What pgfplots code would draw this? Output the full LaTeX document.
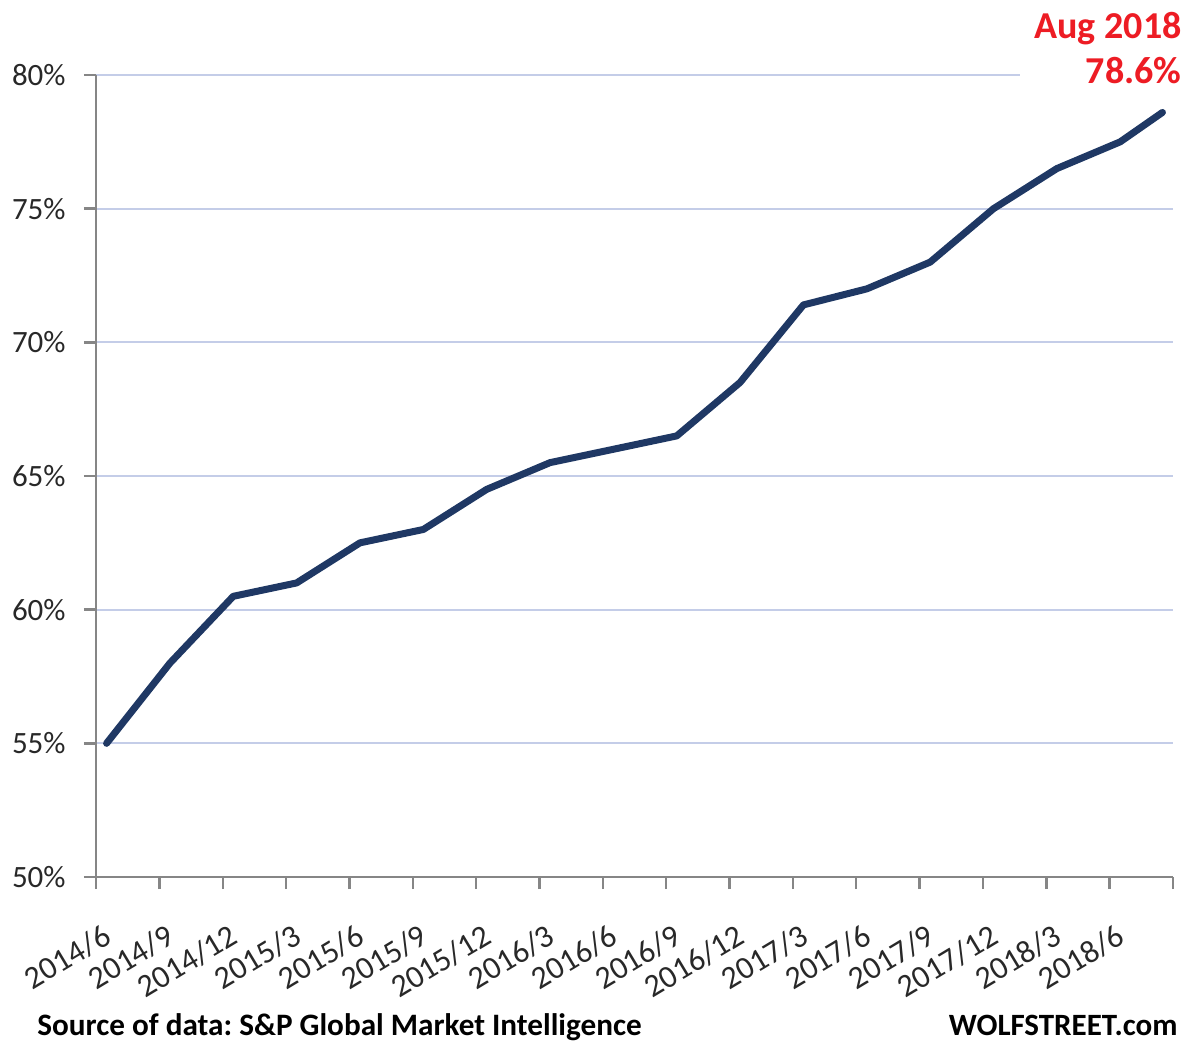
\documentclass[border=0pt]{standalone}
\usepackage{fontspec}
\setmainfont{Carlito}
\usepackage{pgfplots}
\pgfplotsset{compat=1.18}
\definecolor{navy}{RGB}{31,56,100}
\definecolor{axisgray}{RGB}{134,134,134}
\definecolor{gridblue}{RGB}{196,205,232}
\definecolor{annred}{RGB}{237,28,36}
\definecolor{txt}{RGB}{40,40,40}
\frenchspacing
\begin{document}
\begin{tikzpicture}
\path[use as bounding box] (0,0) rectangle (594.5pt,520.5pt);
\begin{axis}[
  at={(48pt,82pt)}, anchor=south west,
  width=538.5pt, height=401pt, scale only axis,
  xmin=0, xmax=51, ymin=50, ymax=80,
  axis x line*=bottom, axis y line*=left,
  axis line style={draw=axisgray, line width=1.2pt, -},
  xtick={0,3,...,51},
  xticklabels={2014/6,2014/9,2014/12,2015/3,2015/6,2015/9,2015/12,2016/3,2016/6,2016/9,2016/12,2017/3,2017/6,2017/9,2017/12,2018/3,2018/6,{}},
  ytick={50,55,60,65,70,75,80},
  yticklabels={50\%,55\%,60\%,65\%,70\%,75\%,80\%},
  tick align=outside, major tick length=6pt,
  tick style={draw=axisgray, line width=1.2pt},
  ymajorgrids, grid style={draw=gridblue, line width=1pt},
  xticklabel style={font=\fontsize{16pt}{18pt}\selectfont, text=txt, inner sep=0pt, xshift=6pt, yshift=-22pt, rotate=31, anchor=east},
  yticklabel style={font=\fontsize{15.5pt}{18pt}\selectfont, text=txt, inner sep=0pt, anchor=east, xshift=-9pt},
  clip=false,
]
\addplot[draw=navy, line width=3.5pt, line join=round, line cap=round, mark=none] coordinates {
(0.5,55.0) (3.5,58.0) (6.5,60.5) (9.5,61.0) (12.5,62.5) (15.5,63.0)
(18.5,64.5) (21.5,65.5) (24.5,66.0) (27.5,66.5) (30.5,68.5) (33.5,71.4)
(36.5,72.0) (39.5,73.0) (42.5,75.0) (45.5,76.5) (48.5,77.5) (50.5,78.6)
};
\end{axis}
\fill[white] (510pt,470.5pt) rectangle (594.5pt,495.5pt);
\node[anchor=base east, inner sep=0pt, text=annred, font=\bfseries\fontsize{19pt}{22pt}\selectfont] at (591pt,501pt) {Aug 2018};
\node[anchor=base east, inner sep=0pt, text=annred, font=\bfseries\fontsize{19pt}{22pt}\selectfont] at (591pt,478.5pt) {78.6\%};
\node[anchor=base west, inner sep=0pt, text=black, font=\bfseries\fontsize{15.6pt}{18pt}\selectfont] at (18.5pt,3pt) {Source of data: S\&P Global Market Intelligence};
\node[anchor=base east, inner sep=0pt, text=black, font=\bfseries\fontsize{15.5pt}{18pt}\selectfont] at (589pt,3pt) {WOLFSTREET.com};
\end{tikzpicture}
\end{document}
